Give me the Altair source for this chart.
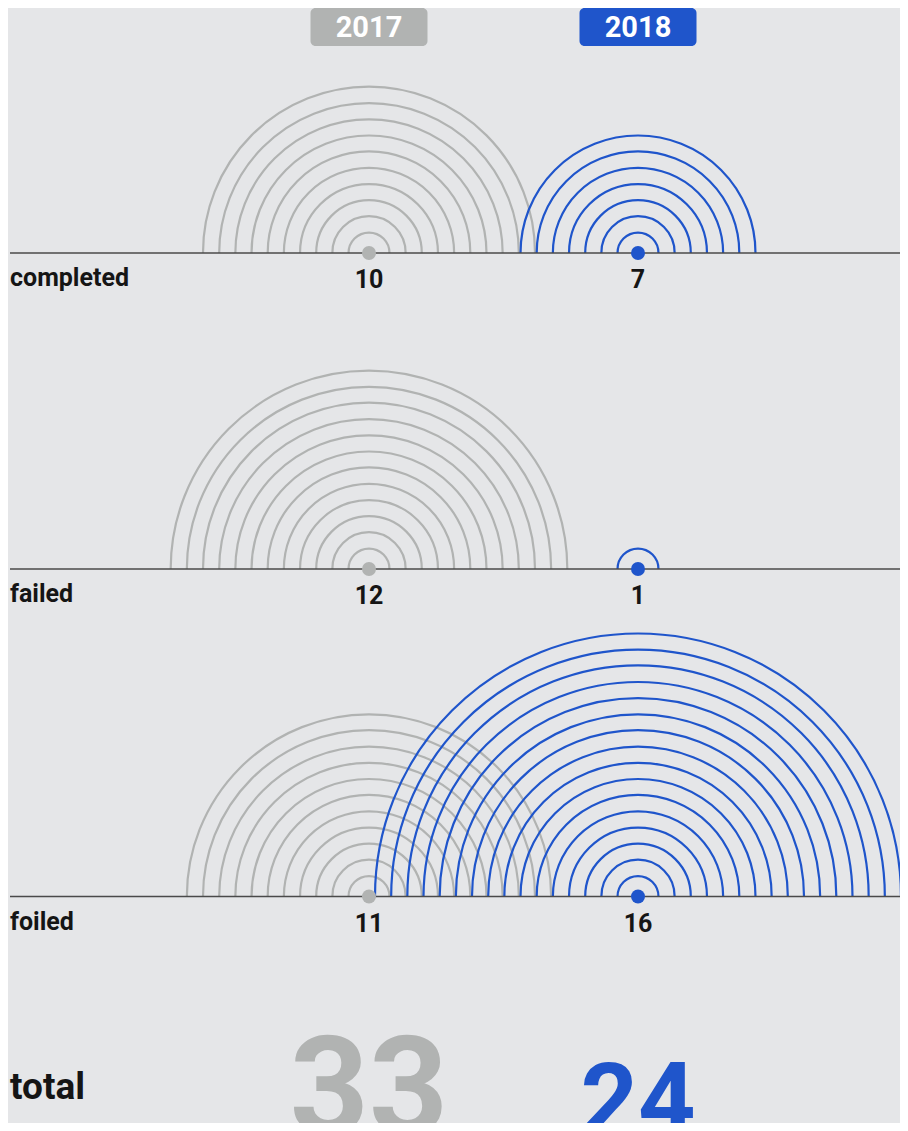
import math
import altair as alt
import pandas as pd

# ---- data ----
categories = ["completed", "failed", "foiled"]
years = [2017, 2018]
counts_2017 = [10, 12, 11]
counts_2018 = [7, 1, 16]
totals = [33, 24]

# ---- style / layout constants ----
W, H = 892, 1115
BG = "#e5e6e8"
GRAY = "#b1b3b2"
BLUE = "#1f55cb"
INK = "#151515"
FONT = "Roboto"
ROW_PX = [19, 245, 561, 888.5, 1126]  # header, 3 rows, totals (chart px)
YEAR_PX = [361, 630]

# ---- tables built from the arrays ----
rings, dots = [], []
for i, cat in enumerate(categories):
    for yr, n in zip(years, [counts_2017[i], counts_2018[i]]):
        dots.append({"category": cat, "row": i + 1, "year": yr, "count": n})
        for k in range(1, n + 1):
            rings.append({"category": cat, "row": i + 1, "year": yr, "k": k})
rings = pd.DataFrame(rings)
dots = pd.DataFrame(dots)
cats = pd.DataFrame({"category": categories, "row": [1, 2, 3]})
head = pd.DataFrame({"year": years, "label": [str(y) for y in years], "row": [0, 0]})
tot = pd.DataFrame({"year": years, "total": totals, "row": [4, 4]})
totlab = pd.DataFrame({"label": ["total"], "row": [4]})

X = alt.X("year:Q", axis=None,
          scale=alt.Scale(domain=years, range=YEAR_PX, nice=False, zero=False))
Y = alt.Y("row:Q", axis=None,
          scale=alt.Scale(domain=[0, 1, 2, 3, 4], range=ROW_PX, nice=False, zero=False))
C = alt.Color("year:N", legend=None,
              scale=alt.Scale(domain=years, range=[GRAY, BLUE]))

arcs = alt.Chart(rings).mark_arc(
    filled=False, strokeWidth=2.2, theta=1.5 * math.pi, theta2=2.5 * math.pi
).encode(
    x=X, y=Y, color=C,
    radius=alt.Radius("k:Q", scale=alt.Scale(type="linear", domain=[0, 16],
                                             range=[4.3, 263], zero=False, nice=False)),
    radius2=alt.Radius2("k:Q"),
)

base = alt.Chart(cats).mark_rule(color="#4a4a4a", strokeWidth=1.5).encode(
    y=Y, x=alt.value(2), x2=alt.value(W)
)

pts = alt.Chart(dots).mark_point(filled=True, size=195, opacity=1).encode(x=X, y=Y, color=C)

nums = alt.Chart(dots).mark_text(
    font=FONT, fontSize=25, fontWeight="bold", color=INK, baseline="alphabetic", dy=35
).encode(x=X, y=Y, text="count:Q")

rowlab = alt.Chart(cats).mark_text(
    font=FONT, fontSize=25, fontWeight="bold", color=INK, align="left",
    baseline="alphabetic", dy=33
).encode(x=alt.value(2), y=Y, text="category:N")

box_path = ("M-0.9145,-0.3248L0.9145,-0.3248A0.0855,0.0855,0,0,1,1,-0.2393"
            "L1,0.2393A0.0855,0.0855,0,0,1,0.9145,0.3248L-0.9145,0.3248"
            "A0.0855,0.0855,0,0,1,-1,0.2393L-1,-0.2393A0.0855,0.0855,0,0,1,-0.9145,-0.3248Z")
boxes = alt.Chart(head).mark_point(
    shape=box_path, filled=True, size=117 * 117, opacity=1
).encode(x=X, y=Y, color=C)

headtxt = alt.Chart(head).mark_text(
    font=FONT, fontSize=29, fontWeight="bold", color="white", baseline="middle", dy=1
).encode(x=X, y=Y, text="label:N")

bigs = alt.Chart(tot).mark_text(
    font=FONT, fontWeight="bold", baseline="alphabetic"
).encode(
    x=X, y=Y, color=C, text="total:Q",
    size=alt.Size("total:Q", legend=None,
                  scale=alt.Scale(type="linear", domain=[0, 33], range=[0, 138])),
)

totaltxt = alt.Chart(totlab).mark_text(
    font=FONT, fontSize=37, fontWeight="bold", color=INK, align="left",
    baseline="alphabetic", dy=-35
).encode(x=alt.value(2), y=Y, text="label:N")

chart = alt.layer(
    arcs, base, pts, nums, rowlab, boxes, headtxt, bigs, totaltxt
).properties(
    width=W, height=H, background=BG, padding=0,
    autosize=alt.AutoSizeParams(type="none"),
).configure_view(strokeWidth=0)

chart.save("out.html", embed_options={"renderer": "svg", "actions": False})
